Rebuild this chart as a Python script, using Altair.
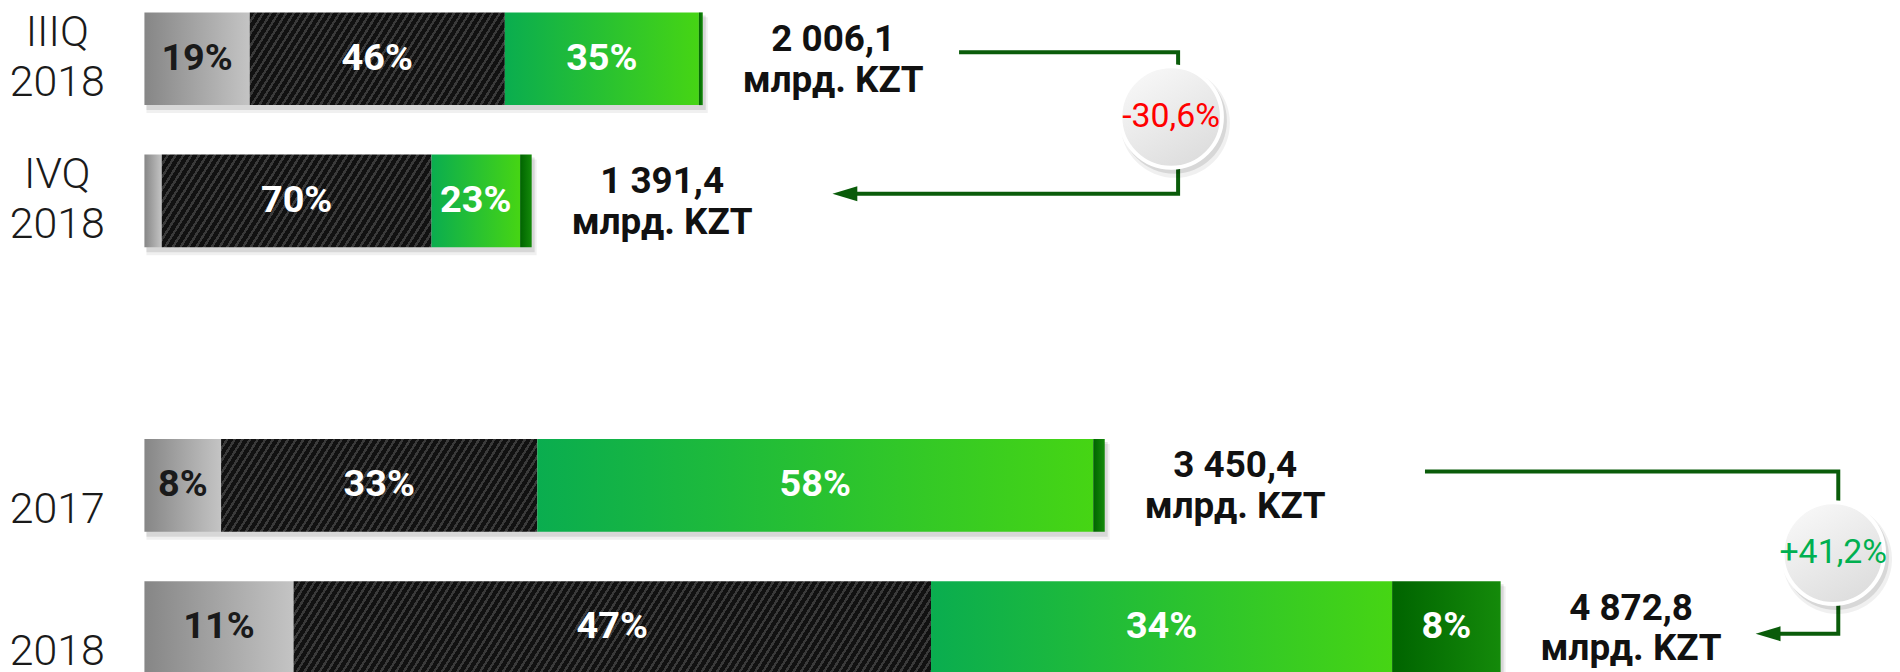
import math
import altair as alt
import pandas as pd

# ------------------------------------------------------------------ data
periods = ["IIIQ 2018", "IVQ 2018", "2017", "2018"]
slots = [0, 1, 3, 4]                          # row slots (an empty slot separates the pairs)
totals = [2006.1, 1391.4, 3450.4, 4872.8]     # млрд. KZT
total_text = ["2 006,1", "1 391,4", "3 450,4", "4 872,8"]
unit_text = "млрд. KZT"
segments = ["A", "B", "C", "D"]
share_a = [19, 4.5, 8, 11]
share_b = [46, 70, 33, 47]
share_c = [35, 23, 58, 34]
share_d = [0.7, 3, 1.2, 8]
change_text = ["-30,6%", "+41,2%"]

# annotation anchors (data units: x in млрд. KZT, y in row slots)
conn_x_start = [2927, 4601]
conn_x_turn = [3714, 6086]
conn_x_tip = [2472, 5789]
conn_y_from = [-0.046, 2.903]
conn_y_to = [0.949, 4.044]
badge_x = [3689, 6068]
badge_y = [0.410, 3.477]

# ------------------------------------------------------------------ tables
rows = []
for i, p in enumerate(periods):
    sh = [share_a[i], share_b[i], share_c[i], share_d[i]]
    s = sum(sh)
    for j, seg in enumerate(segments):
        rows.append(dict(period=p, slot=slots[i], total=totals[i], seg=seg, order=j,
                         share=sh[j], amount=sh[j] / s * totals[i],
                         pct=f"{round(sh[j])}%"))
seg_df = pd.DataFrame(rows)

bars_df = pd.DataFrame(dict(period=periods, slot=slots, total=totals,
                            label=[t + "\n" + unit_text for t in total_text]))

line_rows = []
for c in range(len(change_text)):
    pts = [(conn_x_start[c], conn_y_from[c]), (conn_x_turn[c], conn_y_from[c]),
           (conn_x_turn[c], conn_y_to[c]), (conn_x_tip[c] + 36, conn_y_to[c])]
    for o, (x, y) in enumerate(pts):
        line_rows.append(dict(conn=c, o=o, x=x, y=y))
line_df = pd.DataFrame(line_rows)
tip_df = pd.DataFrame(dict(conn=range(len(change_text)), x=conn_x_tip, y=conn_y_to))
badge_df = pd.DataFrame(dict(change=change_text, x=badge_x, y=badge_y))

# ------------------------------------------------------------------ scales
PLOT_W, PLOT_H = 1755, 664
X_MAX = 6279
Y_MIN, Y_MAX = -0.347, 4.303
HALF = 0.326
k_px = PLOT_W / X_MAX
row_px = PLOT_H / (Y_MAX - Y_MIN)

xscale = alt.Scale(domain=[0, X_MAX], nice=False, zero=False)
yscale = alt.Scale(domain=[Y_MIN, Y_MAX], nice=False, zero=False, reverse=True)


def label_expr():
    parts = []
    for s, p in zip(slots, periods):
        toks = p.split(" ")
        if len(toks) == 1:
            toks = [" "] + toks
        arr = "[" + ",".join(f"'{t}'" for t in toks) + "]"
        parts.append(f"datum.value == {s} ? {arr} : ")
    return "".join(parts) + "''"


yaxis = alt.Axis(values=slots, labelExpr=label_expr(), ticks=False, domain=False, grid=False,
                 labelAlign="center", labelBaseline="middle", labelPadding=88,
                 labelOffset=-26,
                 labelFont="Roboto", labelFontWeight=300, labelFontSize=43,
                 labelColor="#1a1a1a", labelLineHeight=50, labelOverlap=False,
                 labelFlush=False, labelBound=False, title=None)


def X(f):
    return alt.X(f, type="quantitative", scale=xscale, axis=None)


def Y(f):
    return alt.Y(f, type="quantitative", scale=yscale, axis=yaxis)


def lin(c0, c1, x2=1, y2=0):
    return alt.LinearGradient(gradient="linear",
                              stops=[alt.GradientStop(color=c0, offset=0),
                                     alt.GradientStop(color=c1, offset=1)],
                              x1=0, y1=0, x2=x2, y2=y2)


def stripes(w, h, period=6.5, frac=0.36, theta=58, dark="#111111", light="#3a3a3a"):
    t = math.radians(theta)
    L = w * math.sin(t) + h * math.cos(t)
    c = L / (w * w * math.sin(t) ** 2 + h * h * math.cos(t) ** 2)
    gu, gv = c * w * math.sin(t), c * h * math.cos(t)
    n = max(1, int(L / period))
    stops = []
    for i in range(n):
        a, b, e = i / n, (i + 1 - frac) / n, (i + 1) / n
        stops += [alt.GradientStop(color=dark, offset=a), alt.GradientStop(color=dark, offset=b),
                  alt.GradientStop(color=light, offset=b), alt.GradientStop(color=light, offset=e)]
    return alt.LinearGradient(gradient="linear", stops=stops, x1=0, y1=0, x2=gu, y2=gv)


# ------------------------------------------------------------------ layers
bar_base = alt.Chart(bars_df).transform_calculate(
    top=f"datum.slot - {HALF}", bot=f"datum.slot + {HALF}", zero="0")

shadow1 = bar_base.mark_rect(fill="#000000", opacity=0.10, xOffset=2, x2Offset=3,
                             yOffset=3, y2Offset=5).encode(
    x=X("zero:Q"), x2="total:Q", y=Y("top:Q"), y2="bot:Q")
shadow2 = bar_base.mark_rect(fill="#000000", opacity=0.06, xOffset=2, x2Offset=5,
                             yOffset=5, y2Offset=8).encode(
    x=X("zero:Q"), x2="total:Q", y=Y("top:Q"), y2="bot:Q")

seg_base = alt.Chart(seg_df).transform_stack(
    stack="amount", groupby=["period"], as_=["x0", "x1"],
    sort=[alt.SortField("order", order="ascending")]
).transform_calculate(top=f"datum.slot - {HALF}", bot=f"datum.slot + {HALF}",
                      mid="(datum.x0 + datum.x1) / 2")


def seg_layer(seg, fill, period=None):
    flt = f"datum.seg == '{seg}'"
    if period is not None:
        flt += f" && datum.period == '{period}'"
    return seg_base.transform_filter(flt).mark_rect(fill=fill).encode(
        x=X("x0:Q"), x2="x1:Q", y=Y("top:Q"), y2="bot:Q")


layers = [shadow1, shadow2]
layers.append(seg_layer("A", lin("#868686", "#c4c4c4")))
bar_h = 2 * HALF * row_px
for i, p in enumerate(periods):
    amt = seg_df[(seg_df.period == p) & (seg_df.seg == "B")].amount.iloc[0]
    layers.append(seg_layer("B", stripes(amt * k_px, bar_h), period=p))
layers.append(seg_layer("C", lin("#0aad4f", "#46d514")))
layers.append(seg_layer("D", lin("#006400", "#148a0a")))

pct = seg_base.transform_filter("datum.share >= 5").mark_text(
    font="Roboto", fontWeight="bold", fontSize=38, baseline="middle", align="center"
).encode(x=X("mid:Q"), y=Y("slot:Q"), text="pct:N",
         color=alt.condition("datum.seg == 'A'", alt.value("#1a1a1a"), alt.value("#ffffff")))
layers.append(pct)

totals_txt = alt.Chart(bars_df).mark_text(
    font="Roboto", fontWeight="bold", fontSize=37, baseline="middle", align="center",
    lineBreak="\n", lineHeight=41, dx=131, dy=-19, color="#111111"
).encode(x=X("total:Q"), y=Y("slot:Q"), text="label:N")
layers.append(totals_txt)

conn_line = alt.Chart(line_df).mark_line(
    color="#0a5c0a", strokeWidth=4, strokeJoin="miter", strokeCap="butt"
).encode(x=X("x:Q"), y=Y("y:Q"), detail="conn:N", order="o:Q")
layers.append(conn_line)

arrow = alt.Chart(tip_df).mark_point(
    shape="M-1,0L1,-0.6L1,0.6Z", filled=True, size=625, color="#0a5c0a",
    opacity=1, xOffset=12.5
).encode(x=X("x:Q"), y=Y("y:Q"))
layers.append(arrow)

badge_shadow1 = alt.Chart(badge_df).mark_point(
    shape="circle", filled=True, size=110 ** 2, color="#000000", opacity=0.06,
    xOffset=4, yOffset=6).encode(x=X("x:Q"), y=Y("y:Q"))
badge_shadow2 = alt.Chart(badge_df).mark_point(
    shape="circle", filled=True, size=106 ** 2, color="#000000", opacity=0.10,
    xOffset=3, yOffset=4).encode(x=X("x:Q"), y=Y("y:Q"))
badge = alt.Chart(badge_df).mark_point(
    shape="circle", filled=True, size=102 ** 2, opacity=1,
    fill=lin("#fbfbfb", "#dedede", x2=0.6, y2=1), stroke="#ffffff", strokeWidth=4
).encode(x=X("x:Q"), y=Y("y:Q"))
badge_txt = alt.Chart(badge_df).mark_text(
    font="Roboto", fontSize=34, baseline="middle", align="center"
).encode(x=X("x:Q"), y=Y("y:Q"), text="change:N",
         color=alt.condition("indexof(datum.change, '-') == 0",
                             alt.value("#ff0000"), alt.value("#00b050")))
layers += [badge_shadow1, badge_shadow2, badge, badge_txt]

chart = alt.layer(*layers).properties(
    width=PLOT_W, height=PLOT_H,
    autosize=alt.AutoSizeParams(type="none"),
    padding={"left": 137, "top": 0, "right": 0, "bottom": 0},
    background="#ffffff",
).configure_view(stroke=None)

chart.save("out.html", embed_options={"renderer": "svg", "actions": False})
